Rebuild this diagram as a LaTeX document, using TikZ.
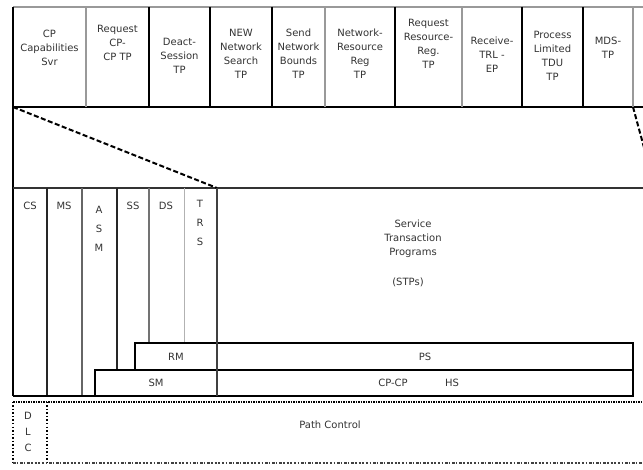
\documentclass[tikz,border=0pt]{standalone}
\usepackage{fontspec}
\setmainfont{DejaVu Sans}
\begin{document}
\begin{tikzpicture}[x=1pt,y=-1pt,
  lbl/.style={font=\fontsize{10}{14}\selectfont, align=center, inner sep=0pt, text=black!80},
  vlbl/.style={font=\fontsize{10}{19}\selectfont, align=center, inner sep=0pt, text=black!80},
  heavy/.style={line width=2.2pt, black},
  grayrule/.style={line width=1.3pt, black!40},
  box/.style={draw, line width=1.3pt, inner sep=0pt},
  dotrule/.style={line width=1.6pt, dash pattern=on 1.5pt off 2pt}]
\useasboundingbox (0,0) rectangle (643,470);
\clip (0,0) rectangle (643,470);
% ---------- top row of transaction programs
\draw[grayrule] (13,7) -- (643,7);
\draw[line width=1.3pt] (13,107) -- (643,107);
\foreach \x in {149,210,272,395,522,583} \draw[heavy] (\x,7) -- (\x,107);
\foreach \x in {86,325,462,633} \draw[grayrule] (\x,7) -- (\x,107);
\draw[heavy] (13,7) -- (13,396);
\node[lbl] (t1) at (49.5,48) {CP\\Capabilities\\Svr};
\node[lbl] (t2) at (117.5,43) {Request\\CP-\\CP TP};
\node[lbl] (t3) at (179.5,56) {Deact-\\Session\\TP};
\node[lbl] (t4) at (241,54) {NEW\\Network\\Search\\TP};
\node[lbl] (t5) at (298.5,54) {Send\\Network\\Bounds\\TP};
\node[lbl] (t6) at (360,54) {Network-\\Resource\\Reg\\TP};
\node[lbl] (t7) at (428.5,44) {Request\\Resource-\\Reg.\\TP};
\node[lbl] (t8) at (492,55) {Receive-\\TRL -\\EP};
\node[lbl] (t9) at (552.5,56) {Process\\Limited\\TDU\\TP};
\node[lbl] (t10) at (608,48) {MDS-\\TP};
% ---------- funnel band
\draw[line width=1.3pt, black!80] (13,188) -- (643,188);
\draw[line width=2pt, dash pattern=on 5pt off 2.5pt] (13,107) -- (217,188);
\draw[line width=2pt, dash pattern=on 5pt off 2.5pt] (633,107) -- (655,188);
% ---------- component columns
\draw[line width=2pt, black!85] (47,188) -- (47,396);
\draw[line width=1.5pt, black!60] (82,188) -- (82,396);
\draw[line width=2pt, black!85] (117,188) -- (117,370);
\draw[line width=1.3pt, black!55] (149,188) -- (149,343);
\draw[line width=0.8pt, black!30] (184,188) -- (184,343);
\draw[line width=1.3pt] (13,396) -- (95,396);
\node[lbl] (cs) at (30,206) {CS};
\node[lbl] (ms) at (64,206) {MS};
\node[vlbl] (asm) at (99,229) {A\\S\\M};
\node[lbl] (ss) at (133,206) {SS};
\node[lbl] (ds) at (166,206) {DS};
\node[vlbl] (trs) at (200,223) {T\\R\\S};
\node[lbl] (stp) at (413,239) {Service\\Transaction\\Programs};
\node[lbl] (stps) at (408,282) {(STPs)};
% ---------- boxes
\node[box, minimum width=82pt, minimum height=27pt] (rm) at (176,356.5) {};
\node[box, minimum width=416pt, minimum height=27pt] (ps) at (425,356.5) {};
\node[box, minimum width=122pt, minimum height=26pt] (sm) at (156,383) {};
\node[box, minimum width=416pt, minimum height=26pt] (hs) at (425,383) {};
\node[lbl] (rmt) at (rm.center) {RM};
\node[lbl] (pst) at (ps.center) {PS};
\node[lbl] (smt) at (sm.center) {SM};
\node[lbl] (cpcp) at (393,383) {CP-CP};
\node[lbl] (hst) at (452,383) {HS};
\draw[line width=2.6pt, black!75] (217,188) -- (217,396);
% ---------- DLC / path control
\draw[line width=2.6pt, dash pattern=on 1.5pt off 1pt] (13,402) -- (643,402);
\draw[dotrule] (13,402) -- (13,463);
\draw[dotrule] (47,402) -- (47,463);
\draw[line width=1.8pt, black!75, dash pattern=on 2.5pt off 1.2pt on 1.5pt off 2pt] (13,463) -- (643,463);
\node[font=\fontsize{10}{16}\selectfont, align=center, inner sep=0pt, text=black!80] (dlc) at (28,432) {D\\L\\C};
\node[lbl] (pc) at (330,425) {Path Control};
\end{tikzpicture}
\end{document}
